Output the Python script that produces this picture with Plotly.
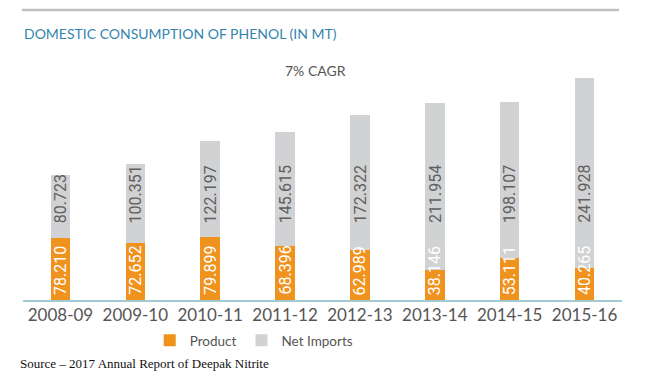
import plotly.graph_objects as go

years = ["2008-09", "2009-10", "2010-11", "2011-12", "2012-13", "2013-14", "2014-15", "2015-16"]
product = [78.210, 72.652, 79.899, 68.396, 62.989, 38.146, 53.111, 40.265]
net_imports = [80.723, 100.351, 122.197, 145.615, 172.322, 211.954, 198.107, 241.928]
product_labels = ["78.210", "72.652", "79.899", "68.396", "62.989", "38.146", "53.111", "40.265"]
import_labels = ["80.723", "100.351", "122.197", "145.615", "172.322", "211.954", "198.107", "241.928"]

ORANGE = "#f0921e"
GRAY = "#d1d2d4"

fig = go.Figure()
fig.add_trace(go.Bar(
    x=years, y=product, name="Product", marker=dict(color=ORANGE, line=dict(width=0)),
    hoverinfo="skip",
))
fig.add_trace(go.Bar(
    x=years, y=net_imports, name="Net Imports", marker=dict(color=GRAY, line=dict(width=0)),
    hoverinfo="skip",
))

# value labels written vertically inside the bars (drawn above all bars)
MIN_LABEL_BASE = 90
for yr, p, pl, nl in zip(years, product, product_labels, import_labels):
    fig.add_annotation(x=yr, y=0, xref="x", yref="y", text=pl, textangle=-90,
                       xanchor="center", yanchor="bottom", yshift=3, showarrow=False,
                       font=dict(family="Roboto", size=16, color="white"))
    fig.add_annotation(x=yr, y=max(p, MIN_LABEL_BASE), xref="x", yref="y", text=nl, textangle=-90,
                       xanchor="center", yanchor="bottom", yshift=4, showarrow=False,
                       font=dict(family="Roboto", size=16, color="#606060"))

fig.update_layout(
    width=641, height=373,
    barmode="stack", bargap=0.74,
    margin=dict(l=14.5, r=26.5, t=62, b=81),
    paper_bgcolor="white", plot_bgcolor="white",
    showlegend=True,
    legend=dict(orientation="h", x=0.386, xanchor="center", y=-0.109, yanchor="top",
                font=dict(family="Lato", size=13.5, color="#555555"), traceorder="normal",
                itemwidth=30),
    xaxis=dict(type="category", showgrid=False, showline=True, linecolor="#a3c9d3", linewidth=1.5,
               ticks="", ticklabelstandoff=-1,
               tickfont=dict(family="Lato", size=17, color="#555555")),
    yaxis=dict(visible=False, range=[0, 292.4]),
)

fig.add_annotation(text="DOMESTIC CONSUMPTION OF PHENOL (IN MT)", xref="paper", yref="paper",
                   x=0.0, xshift=-1, y=1.0, yshift=37, xanchor="left", yanchor="middle", showarrow=False,
                   font=dict(family="Lato", size=14, color="#3485ad"))
fig.add_annotation(text="7% CAGR", xref="paper", yref="paper", x=0.489, y=1.0, yshift=0,
                   xanchor="center", yanchor="middle", showarrow=False,
                   font=dict(family="Lato", size=14, color="#555555"))
fig.add_annotation(text="Source – 2017 Annual Report of Deepak Nitrite", xref="paper", yref="paper",
                   x=0.0, xshift=-5, y=0, yshift=-63, xanchor="left", yanchor="middle", showarrow=False,
                   font=dict(family="Liberation Serif", size=13, color="#111111"))
fig.add_shape(type="line", xref="paper", yref="paper", x0=-0.002, x1=0.995, y0=1.261, y1=1.261,
              line=dict(color="#c0c0c0", width=2.5))

fig.write_html("out.html")
